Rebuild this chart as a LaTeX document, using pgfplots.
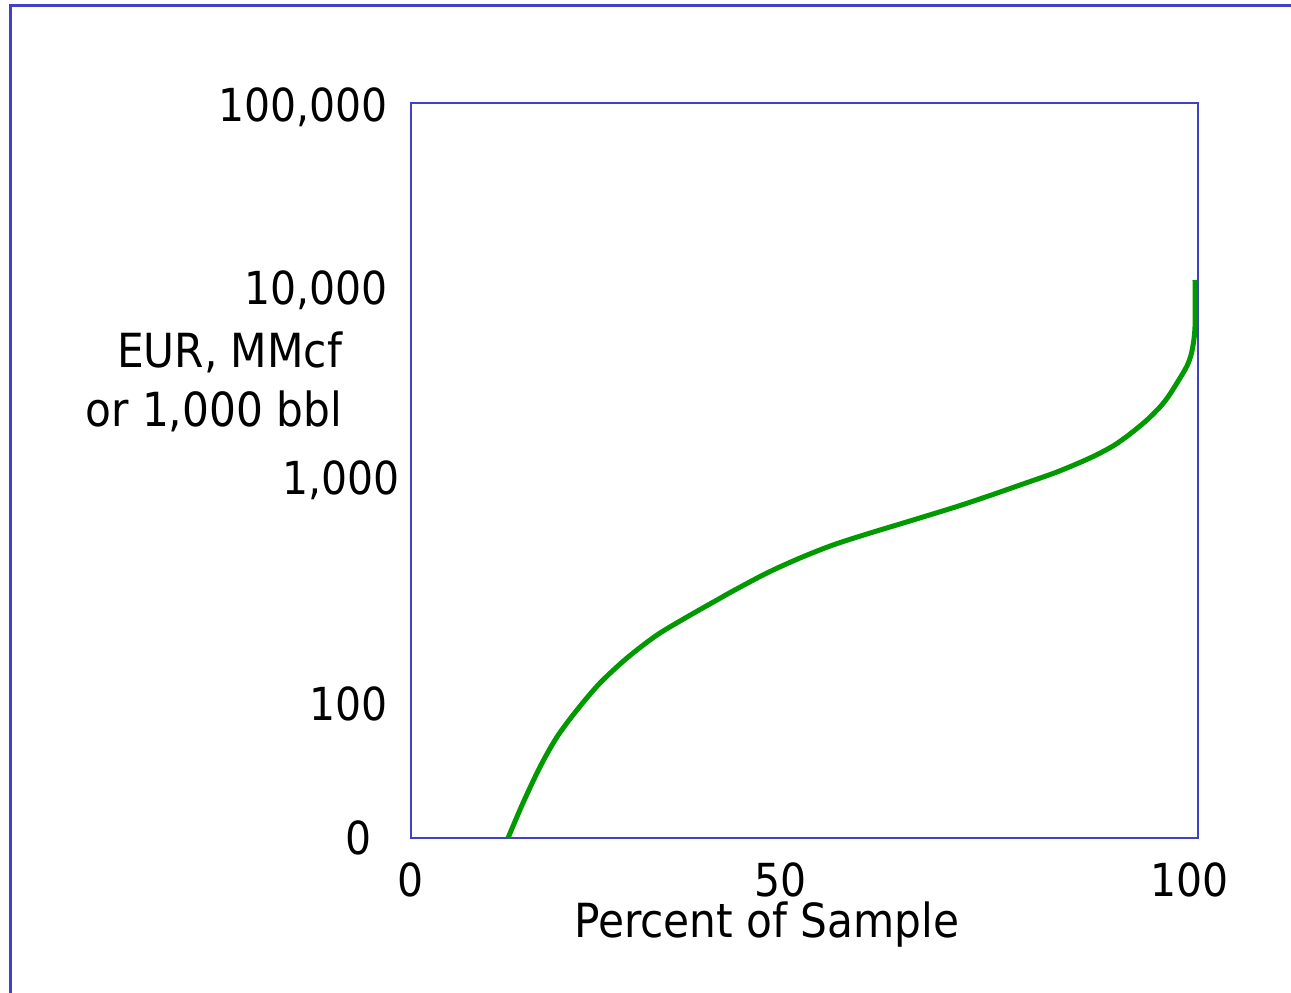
\documentclass[border=0pt]{standalone}
\usepackage{fontspec}
\setmainfont{DejaVu Sans Condensed}
\usepackage{pgfplots}
\pgfplotsset{compat=1.18}
\definecolor{frameblue}{RGB}{64,64,200}
\definecolor{curvegreen}{RGB}{0,153,0}
\begin{document}
\begin{tikzpicture}
\useasboundingbox (0,0) rectangle (258.2pt,198.6pt);
\draw[frameblue, line width=0.6pt] (2.2pt,0) -- (2.2pt,197.4pt) -- (258.2pt,197.4pt);
\begin{axis}[
  at={(82.2pt,31pt)}, anchor=south west,
  scale only axis, width=157.4pt, height=147pt,
  xmin=0, xmax=100, ymin=0, ymax=735,
  axis line style={frameblue, line width=0.4pt},
  major tick length=0pt,
  xtick={0,46.9,98.9}, xticklabels={0,50,100},
  ytick={0,134,360,550,733},
  yticklabels={{0\rule{3.2pt}{0pt}},{100},{1,000\kern-2.4pt\rule{0pt}{0pt}},{10,000},{100,000}},
  tick label style={font=\fontsize{9.1}{11}\selectfont, inner sep=0pt},
  xticklabel style={anchor=base, yshift=-11.8pt},
  yticklabel style={anchor=base east, xshift=-4.4pt, yshift=-3.3pt},
  xlabel={Percent of Sample},
  xlabel style={at={(axis description cs:0.452,-0.136)}, anchor=base, inner sep=0pt, font=\fontsize{9.4}{11}\selectfont},
  ylabel={EUR, MMcf\\or 1,000 bbl},
  ylabel style={rotate=-90, at={(axis description cs:-0.0864,0.69)}, anchor=north east, align=right, inner sep=0pt, font=\fontsize{9.4}{11.8}\selectfont},
  clip=false,
]
\addplot[curvegreen, line width=1pt, smooth, tension=0.5] coordinates {
(12.33,0) (14.23,35) (16.39,71) (18.55,101) (21.09,128) (24.02,155)
(27.45,180) (31.26,203) (35.07,221) (38.88,238) (40.91,247) (45.23,265)
(49.43,280) (53.62,293) (57.94,304) (62.13,314) (65.06,321)
(69.38,331.5) (73.57,342.5) (77.76,354) (82.08,366) (86.28,380)
(89.20,392) (91.36,404) (93.52,418) (95.17,431) (96.19,441)
(97.33,455) (98.60,472) (99.24,487) (99.62,511) (99.62,558)
};
\end{axis}
\end{tikzpicture}
\end{document}
